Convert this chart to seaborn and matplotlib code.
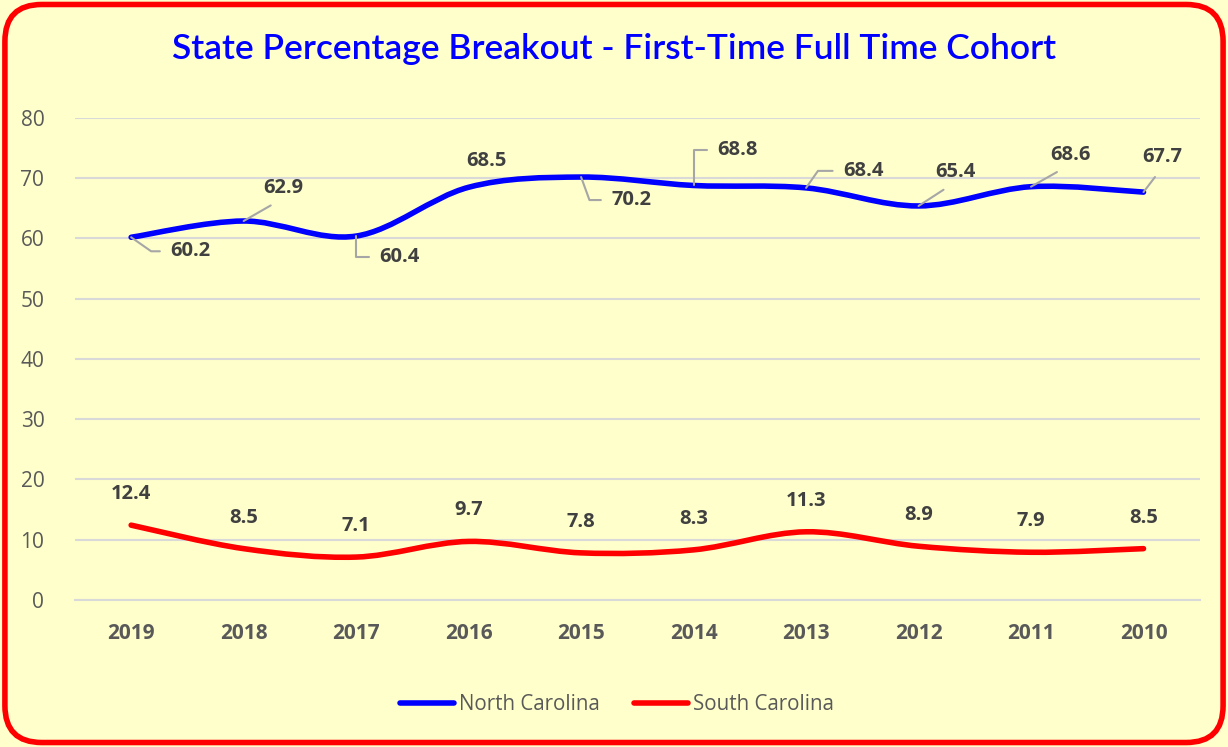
import matplotlib
matplotlib.use("Agg")
import matplotlib.pyplot as plt
import seaborn as sns
import pandas as pd
import numpy as np
from matplotlib.patches import FancyBboxPatch, PathPatch
from matplotlib.path import Path

years = ["2019", "2018", "2017", "2016", "2015", "2014", "2013", "2012", "2011", "2010"]
north_carolina = [60.2, 62.9, 60.4, 68.5, 70.2, 68.8, 68.4, 65.4, 68.6, 67.7]
south_carolina = [12.4, 8.5, 7.1, 9.7, 7.8, 8.3, 11.3, 8.9, 7.9, 8.5]
series_names = ["North Carolina", "South Carolina"]
title = "State Percentage Breakout - First-Time Full Time Cohort"
y_ticks = [0, 10, 20, 30, 40, 50, 60, 70, 80]

bg = "#FFFFCC"
sns.set_theme(style="white")
plt.rcParams["font.family"] = ["Open Sans", "DejaVu Sans"]

df = pd.DataFrame({
    "Year": years * 2,
    "Value": north_carolina + south_carolina,
    "State": [series_names[0]] * len(years) + [series_names[1]] * len(years),
})

fig = plt.figure(figsize=(12.28, 7.47), dpi=100, facecolor=bg)
ax = fig.add_axes([0.061, 0.197, 0.916, 0.645])
ax.set_facecolor(bg)

sns.lineplot(data=df, x="Year", y="Value", hue="State",
             palette={series_names[0]: "#0000FF", series_names[1]: "#FF0000"},
             linewidth=4, ax=ax, sort=False, legend=True)


def smooth_path(xs, ys):
    pts = np.column_stack([xs, ys]).astype(float)
    n = len(pts)
    verts = [pts[0]]
    codes = [Path.MOVETO]
    for i in range(n - 1):
        p0 = pts[i - 1] if i > 0 else pts[i]
        p1 = pts[i]
        p2 = pts[i + 1]
        p3 = pts[i + 2] if i + 2 < n else pts[i + 1]
        c1 = p1 + (p2 - p0) / 6.0
        c2 = p2 - (p3 - p1) / 6.0
        verts += [c1, c2, p2]
        codes += [Path.CURVE4] * 3
    return Path(verts, codes)


# Render the seaborn lines as smoothed curves (Excel-style smoothing)
for ln in list(ax.get_lines()):
    xd, yd = ln.get_xdata(), ln.get_ydata()
    if len(xd) < 2:
        continue
    xs = np.asarray(ax.convert_xunits(xd), dtype=float)
    patch = PathPatch(smooth_path(xs, np.asarray(yd, dtype=float)), facecolor="none",
                      edgecolor=ln.get_color(), linewidth=4, capstyle="round",
                      joinstyle="round", zorder=ln.get_zorder())
    ax.add_patch(patch)
    ln.set_visible(False)

ax.set_xlim(-0.5, len(years) - 0.5)
ax.set_ylim(0, 80)
ax.set_yticks(y_ticks)
ax.grid(axis="y", color="#D9D9D9", linewidth=1.5)
ax.set_axisbelow(True)
for s in ["top", "right", "left"]:
    ax.spines[s].set_visible(False)
ax.spines["bottom"].set_color("#D9D9D9")
ax.spines["bottom"].set_linewidth(1.5)
ax.tick_params(axis="both", length=0, colors="#595959", labelsize=15)
ax.tick_params(axis="x", pad=17)
ax.tick_params(axis="y", pad=22)
for t in ax.get_xticklabels():
    t.set_fontweight("bold")
ax.set_xlabel("")
ax.set_ylabel("")

# NC labels with leader lines (offsets in pixels)
nc_offsets = [(59, -14), (40, 33), (43, -21), (18, 26), (50, -23),
              (44, 35), (57, 17), (37, 34), (39, 32), (19, 35)]
# ("angle", angleB) -> horizontal segment at text + angled segment at point
# ("straight",) -> straight line from the text bottom to the point
nc_leader = [("angle", -35), ("straight",), ("angle", -90), None, ("angle", -70),
             ("angle", 90), ("angle", 55), ("straight",), ("straight",), ("straight",)]
for i, v in enumerate(north_carolina):
    dx, dy = nc_offsets[i]
    kw = {}
    spec = nc_leader[i]
    if spec is not None and spec[0] == "angle":
        kw["arrowprops"] = dict(arrowstyle="-", color="#A6A6A6", lw=1.5,
                                shrinkA=5, shrinkB=0, relpos=(0, 0.5),
                                connectionstyle=f"angle,angleA=0,angleB={spec[1]},rad=0")
    elif spec is not None:
        kw["arrowprops"] = dict(arrowstyle="-", color="#A6A6A6", lw=1.5,
                                shrinkA=6, shrinkB=0, relpos=(0.5, 0))
    ax.annotate(f"{v:.1f}", xy=(i, v), xytext=(dx, dy), textcoords="offset pixels",
                ha="center", va="center", fontsize=14.5, fontweight="bold",
                color="#404040", **kw)

for i, v in enumerate(south_carolina):
    ax.annotate(f"{v:.1f}", xy=(i, v), xytext=(0, 31), textcoords="offset pixels",
                ha="center", va="center", fontsize=14.5, fontweight="bold", color="#404040")

leg = ax.legend(loc="center", bbox_to_anchor=(0.482, -0.218), ncol=2, frameon=False,
                fontsize=14.8, handlelength=2.6, handletextpad=0.25, columnspacing=1.7)
for t in leg.get_texts():
    t.set_color("#595959")
for h in leg.legend_handles:
    h.set_linewidth(4)
    h.set_visible(True)
    h.set_solid_capstyle("round")

fig.text(0.5, 0.934, title, ha="center", va="center", fontsize=25.5,
         color="#0000FF", family=["Lato", "DejaVu Sans"], fontweight="semibold")

border = FancyBboxPatch((0.004, 0.006), 0.992, 0.988,
                        boxstyle="round,pad=0,rounding_size=0.03",
                        transform=fig.transFigure, facecolor="none",
                        edgecolor="#FF0000", linewidth=4, mutation_aspect=1228/747)
fig.patches.append(border)

fig.savefig("out.png", dpi=100, facecolor=bg)
